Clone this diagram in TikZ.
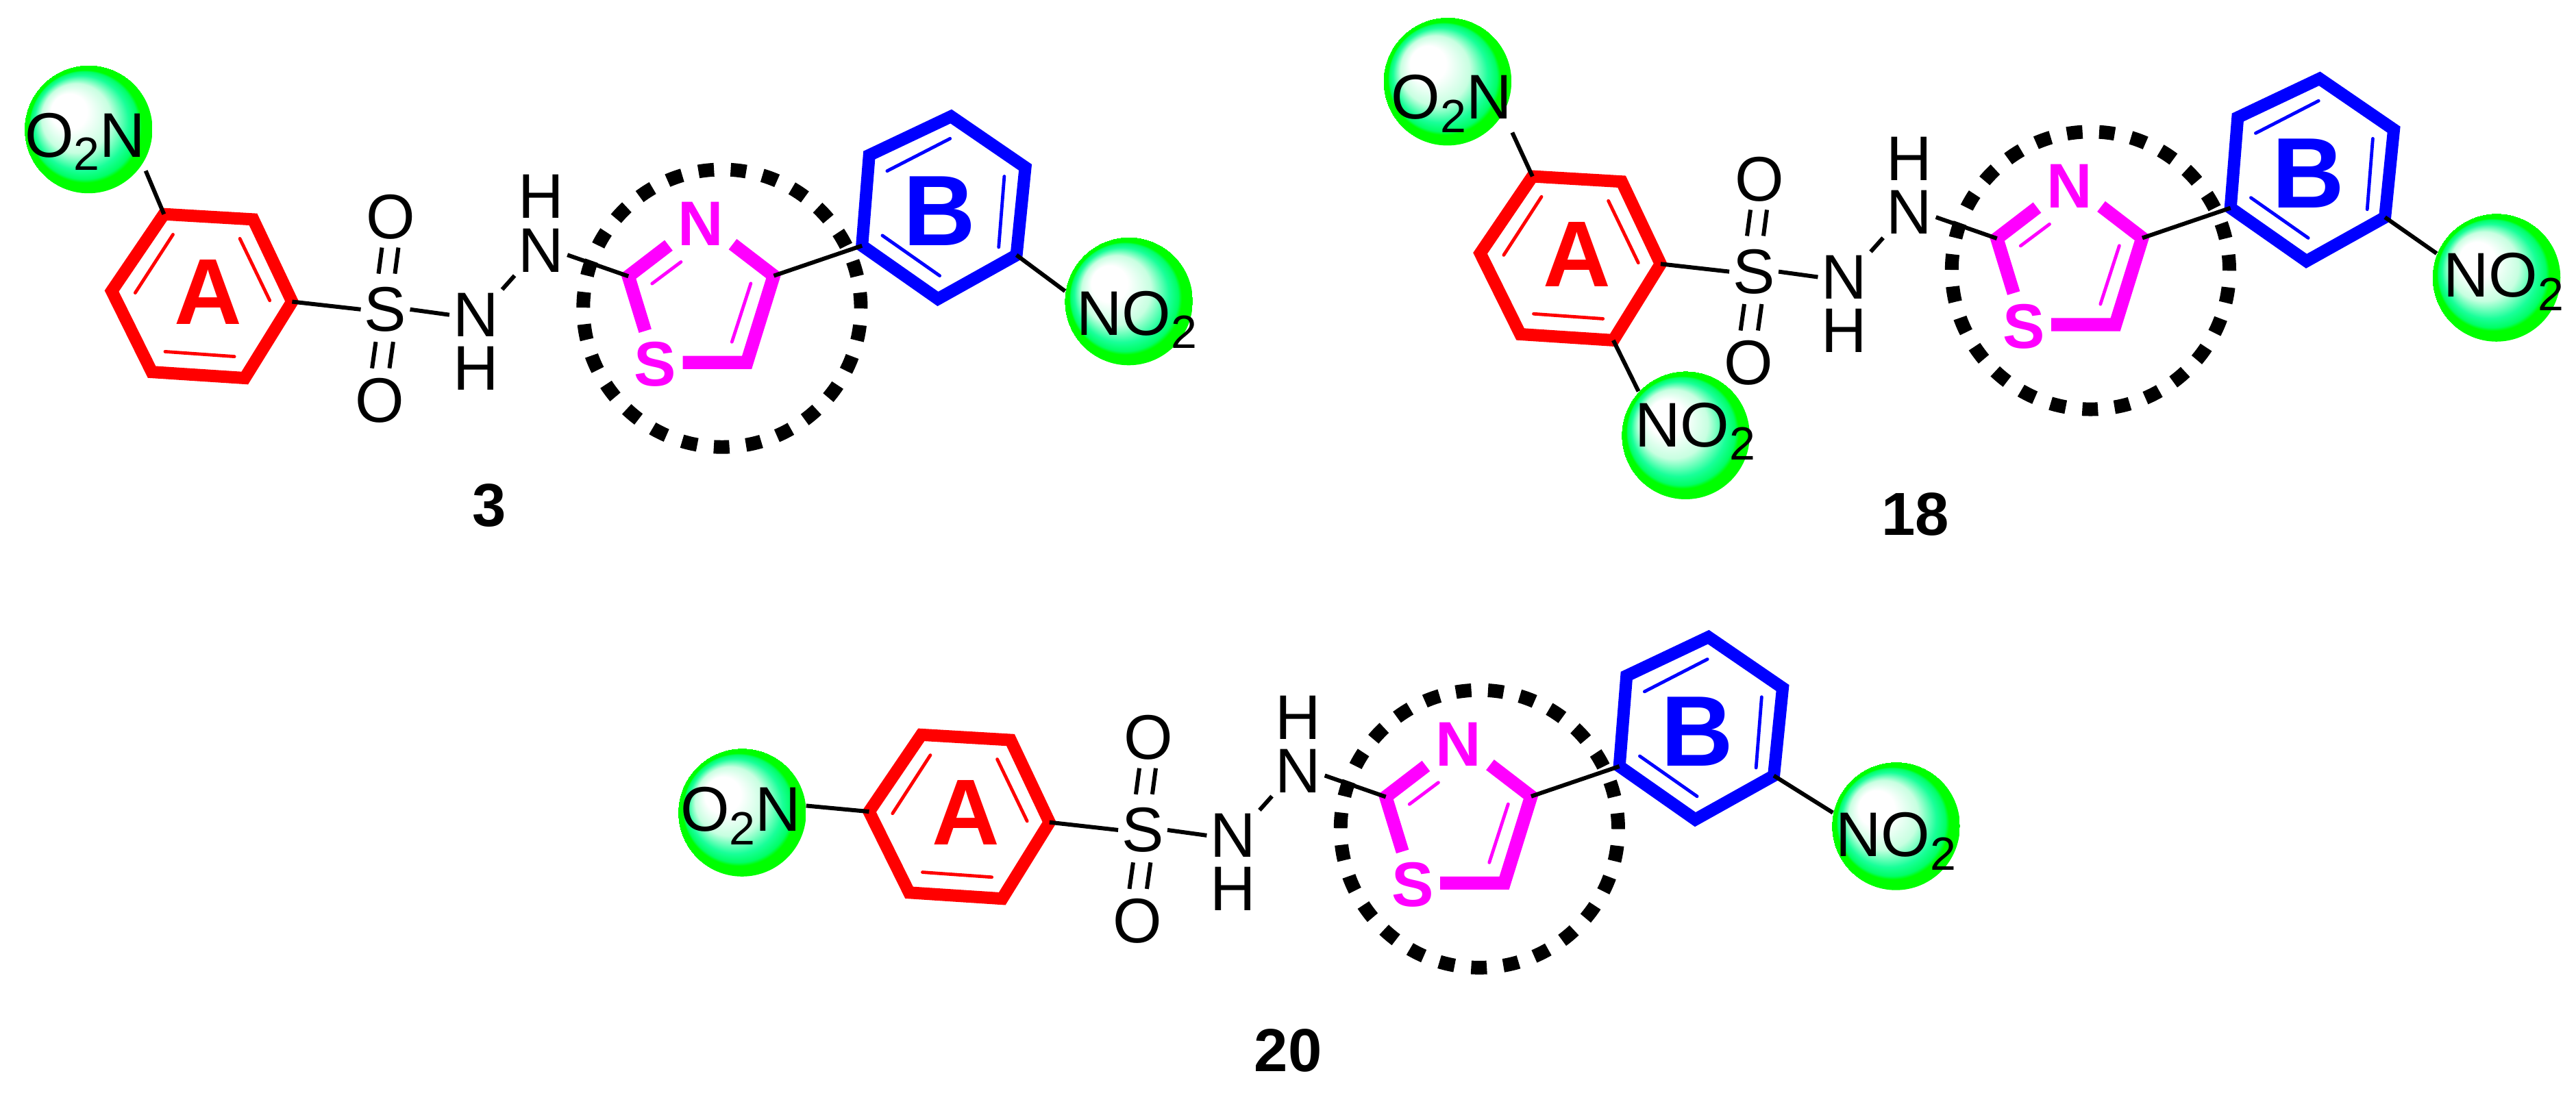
\documentclass[tikz,border=0pt]{standalone}
\usepackage{fontspec}
\setmainfont{Liberation Sans}
\usetikzlibrary{calc}
\definecolor{ringpink}{RGB}{255,0,255}
\newcommand{\subtwo}{\raisebox{-8.2pt}{\fontsize{28.4}{30}\selectfont 2}}
\pgfdeclareradialshading{nitroball}{\pgfpoint{-10.5bp}{9.5bp}}{rgb(0bp)=(1,1,1); rgb(7bp)=(1,1,1); rgb(13.5bp)=(0.78,1,0.88); rgb(18.5bp)=(0.1,1,0.6); rgb(21bp)=(0,1,0.4); rgb(22bp)=(0,1,0); rgb(25bp)=(0,1,0)}
\tikzset{
    atom/.style = {font=\fontsize{38.4}{40}\selectfont, inner sep=2pt},
    boldatom/.style = {font=\fontsize{38.4}{40}\selectfont\bfseries, inner sep=0pt, text=ringpink},
    formula/.style = {font=\fontsize{38.4}{40}\selectfont, inner sep=0pt, anchor=base west},
    number/.style = {font=\fontsize{37}{40}\selectfont\bfseries, inner sep=0pt},
    bond/.style = {line width=2.5pt},
    thick ring/.style = {line width=7.5pt, miter limit=10},
    thin ring/.style = {line width=2pt, line cap=round},
    nitro/.style = {circle, minimum size=78pt, inner sep=0pt, shading=nitroball},
    hydrazone/.pic = {
        \draw[line width=8.3pt, dash pattern=on 9.5pt off 10.16pt, dash phase=9.36pt] (439.5,187.7) circle [radius=84.5];
        % ring A
        \coordinate (a1) at (99.8,130.4);
        \coordinate (a2) at (154.1,133.6);
        \coordinate (a3) at (177.8,183.7);
        \coordinate (a4) at (149,230.2);
        \coordinate (a5) at (92.4,226.5);
        \coordinate (a6) at (68,177.2);
        \draw[thick ring, red] (a1) -- (a2) -- (a3) -- (a4) -- (a5) -- (a6) -- cycle;
        \draw[thin ring, red] (105.3,142.8) -- (82.3,178.3);
        \draw[thin ring, red] (146,145.3) -- (164.2,183);
        \draw[thin ring, red] (100.5,214.1) -- (142.7,217.1);
        \node[font=\fontsize{57}{60}\selectfont\bfseries, text=red, inner sep=0pt] (labelA) at (126.9,177.9) {A};
        % sulfonyl and hydrazine
        \node[atom] (sulfur) at (234.6,188.4) {S};
        \node[atom] (oxtop) at (237.9,132) {O};
        \node[atom] (oxbot) at (231.2,244) {O};
        \node[atom] (nlow) at (289.6,191.7) {N};
        \node[atom] (hlow) at (289.6,224.2) {H};
        \node[atom] (nup) at (329.3,152.4) {N};
        \node[atom] (hup) at (329.3,119.8) {H};
        \draw[bond] (a3) -- (sulfur.west);
        \draw[bond, shorten >=6pt, shorten <=3pt] ([xshift=-5pt]oxtop.south) -- ([xshift=-5pt]sulfur.north);
        \draw[bond, shorten >=6pt, shorten <=3pt] ([xshift=5pt]oxtop.south) -- ([xshift=5pt]sulfur.north);
        \draw[bond, shorten >=4pt, shorten <=4pt] ([xshift=-5.3pt]sulfur.south) -- ([xshift=-5.3pt]oxbot.north);
        \draw[bond, shorten >=4pt, shorten <=4pt] ([xshift=5.3pt]sulfur.south) -- ([xshift=5.3pt]oxbot.north);
        \draw[bond] (sulfur.east) -- (nlow.west);
        \draw[bond] (nlow.north east) -- (nup.south west);
        % thiazole
        \node[boldatom] (natom) at (426.7,136.4) {N};
        \node[boldatom] (satom) at (398.8,221.8) {S};
        \coordinate (send) at (392.7,201.5);
        \coordinate (t2) at (382.5,168.2);
        \coordinate (nend) at (407,149.4);
        \coordinate (nstart) at (446,148.7);
        \coordinate (t4) at (471,167.9);
        \coordinate (t5) at (454.6,220.7);
        \coordinate (sstart) at (415.6,220.7);
        \draw[thick ring, ringpink, line width=8pt] (send) -- (t2) -- (nend);
        \draw[thick ring, ringpink, line width=8pt] (nstart) -- (t4) -- (t5) -- (sstart);
        \draw[thin ring, ringpink] (396.9,172.7) -- (414.5,159.5);
        \draw[thin ring, ringpink] (457,172.6) -- (445.5,208.2);
        \draw[bond] (nup.-10) -- (t2);
        % ring B
        \coordinate (b1) at (524.7,149.6);
        \coordinate (b2) at (529.1,94.5);
        \coordinate (b3) at (578.9,70.9);
        \coordinate (b4) at (624.1,101.9);
        \coordinate (b5) at (618.7,155.3);
        \coordinate (b6) at (570.9,182);
        \draw[thick ring, blue] (b1) -- (b2) -- (b3) -- (b4) -- (b5) -- (b6) -- cycle;
        \draw[thin ring, blue] (540,104.1) -- (578.3,84.4);
        \draw[thin ring, blue] (611.3,107.4) -- (607.9,150.5);
        \draw[thin ring, blue] (537.1,143.4) -- (572,167.9);
        \node[font=\fontsize{61}{64}\selectfont\bfseries, text=blue, inner sep=0pt] (labelB) at (572,128.4) {B};
        \draw[bond] (t4) -- (b1);
    }
}

\begin{document}
\begin{tikzpicture}[x=1pt, y=-1pt]
    \useasboundingbox (0,0) rectangle (1568,672);

    % compound 3
    \pic (one) at (0,0) {hydrazone};
    \node[nitro] (oneballA) at (53.8,78.7) {};
    \node[formula] (onenitroA) at (14.9,95.6) {O\subtwo N};
    \node[nitro] (oneballB) at (687,183.4) {};
    \node[formula] (onenitroB) at (655,204) {NO\subtwo};
    \draw[bond] (onea1) -- (onenitroA.south east);
    \draw[bond] (oneb5) -- (oneballB.171);
    \node[number] (onelabel) at (297.8,307.6) {3};

    % compound 18
    \pic (two) at (833,-23) {hydrazone};
    \node[nitro] (twoballA) at (881,49.6) {};
    \node[formula] (twonitroA) at (846.7,72.3) {O\subtwo N};
    \node[nitro] (twoballC) at (1026,265) {};
    \node[formula] (twonitroC) at (995,271.9) {NO\subtwo};
    \node[nitro] (twoballB) at (1519.5,169) {};
    \node[formula] (twonitroB) at (1487,180.9) {NO\subtwo};
    \draw[bond] (twoa1) -- (twonitroA.south east);
    \draw[bond] (twoa4) -- (twoballC.137);
    \draw[bond] (twob5) -- (twoballB.158);
    \node[number] (twolabel) at (1165.9,313.2) {18};

    % compound 20
    \pic (three) at (461,317) {hydrazone};
    \node[nitro] (threeballA) at (451.7,494.7) {};
    \node[formula] (threenitroA) at (414,506) {O\subtwo N};
    \node[nitro] (threeballB) at (1154,503) {};
    \node[formula] (threenitroB) at (1117,521.5) {NO\subtwo};
    \draw[bond] (threea6) -- (threeballA.6);
    \draw[bond] (threeb5) -- (threeballB.168);
    \node[number] (threelabel) at (784,639.6) {20};
\end{tikzpicture}
\end{document}
